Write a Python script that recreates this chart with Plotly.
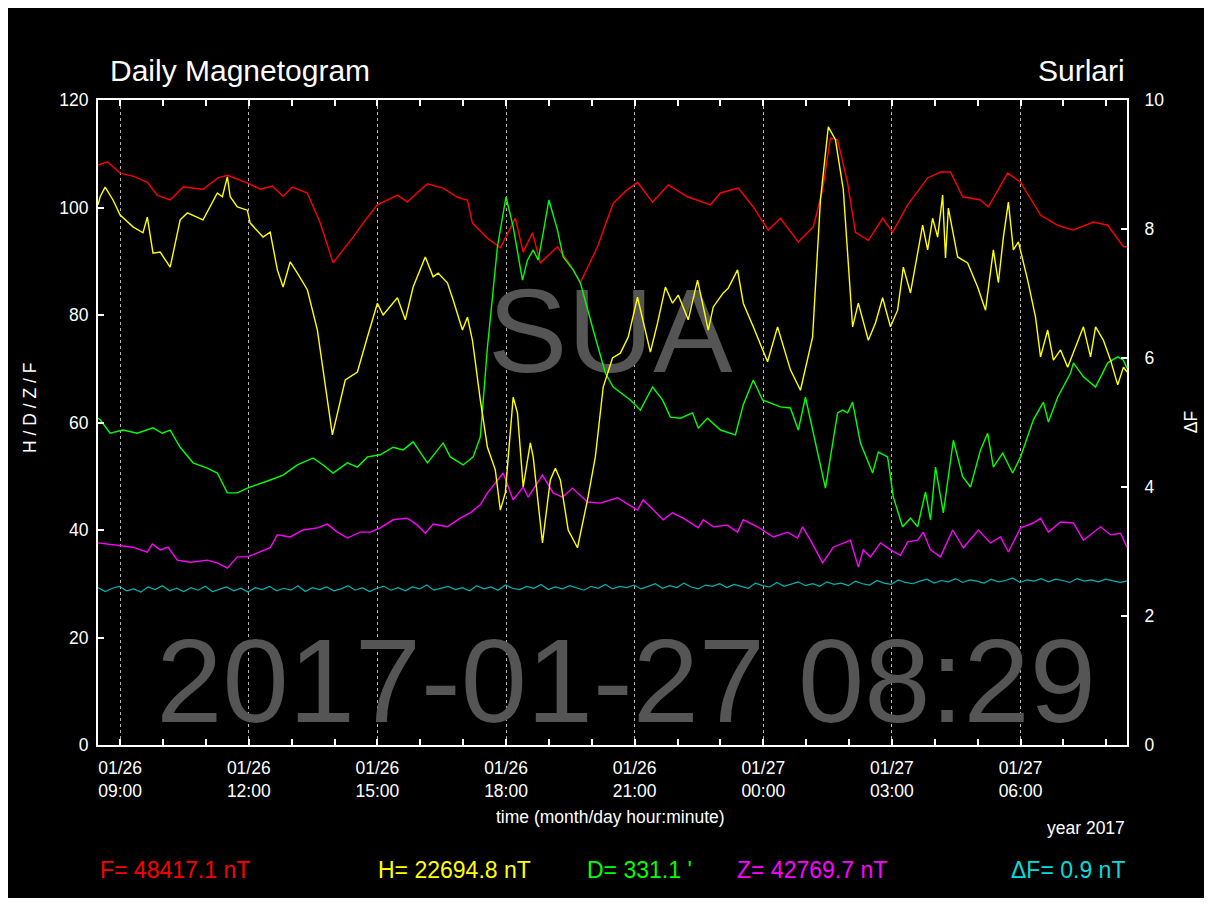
import plotly.graph_objects as go
import pandas as pd
import numpy as np

START = pd.Timestamp("2017-01-26 08:29")
END = START + pd.Timedelta(hours=24)

# F (total field) - minutes from start, values
f_min = [0,13,31,50,69,83,101,119,147,168,181,195,209,227,244,259,272,293,311,329,343,357,375,391,419,433,447,461,483,503,517,524,545,563,584,595,608,619,643,660,675,699,721,738,755,776,798,825,857,871,896,917,938,955,980,1001,1014,1025,1035,1049,1060,1078,1098,1112,1133,1161,1179,1193,1210,1235,1246,1273,1291,1319,1343,1365,1393,1413,1435,1440]
f_val = [107.9,108.5,106.4,105.8,104.7,102.3,101.4,103.8,103.4,105.5,106.0,105.3,104.6,103.4,104.0,102.1,103.8,102.7,97.1,89.7,92.0,94.5,97.8,100.5,102.3,101.0,102.8,104.4,103.6,101.9,101.4,97.1,94.3,92.5,98.0,91.7,95.3,89.7,92.7,89.5,86.0,92.7,100.8,103.0,104.7,101.0,104.2,102.0,100.5,102.7,103.6,100.1,95.8,98.0,93.6,96.4,103.3,112.9,112.6,104.6,95.4,93.9,98.0,95.4,100.5,105.5,106.6,106.6,102.0,101.4,100.1,106.4,104.7,98.6,96.7,95.8,97.3,96.7,92.7,92.7]

# H component
h_min = [0,3,10,21,31,49,63,69,77,87,101,115,125,147,167,174,181,185,195,209,213,231,241,251,259,269,279,293,307,328,346,363,377,391,399,419,430,441,458,469,476,489,497,510,517,524,535,545,556,563,570,581,587,595,605,609,622,633,640,647,658,671,685,696,707,720,731,742,755,773,783,794,804,812,826,839,854,861,875,882,895,903,917,937,951,969,983,1000,1011,1022,1032,1043,1056,1064,1078,1088,1098,1109,1119,1127,1137,1154,1161,1168,1175,1182,1186,1190,1203,1217,1231,1242,1253,1260,1267,1274,1281,1288,1301,1312,1319,1329,1337,1347,1357,1365,1379,1389,1396,1407,1417,1427,1435,1440]
h_val = [100.5,102.0,103.8,101.4,98.6,96.4,95.3,98.2,91.5,91.7,88.9,97.7,99.0,97.7,102.7,102.0,105.7,102.0,100.1,99.5,97.1,94.5,95.4,88.4,85.2,89.9,87.8,84.7,77.2,57.7,67.9,69.4,75.9,82.2,80.0,83.2,79.1,85.2,90.8,87.1,87.8,86.0,82.8,77.2,79.6,75.3,64.2,55.4,51.2,43.7,46.9,64.7,61.8,48.0,56.2,53.6,37.6,49.3,51.5,49.3,40.0,36.7,45.6,53.6,66.6,72.0,72.9,75.9,83.3,73.1,78.5,85.2,82.2,83.7,79.1,86.5,77.2,81.5,84.1,85.0,88.4,82.2,77.8,71.3,77.8,69.8,66.0,75.9,101.4,115.0,112.6,103.3,77.8,82.2,75.3,78.5,83.2,77.8,80.9,88.9,84.1,96.7,92.1,98.0,94.5,102.3,90.6,99.9,90.8,89.7,85.2,80.9,92.1,86.0,94.5,101.0,92.1,93.6,86.5,79.6,72.2,77.2,71.6,73.5,70.3,72.9,77.8,72.2,77.8,75.3,71.6,67.0,70.3,69.4]

# D component
d_min = [0,3,17,35,55,77,90,101,115,133,153,167,181,195,209,223,241,259,279,301,315,329,349,363,377,395,413,427,441,461,483,493,511,525,535,545,559,571,581,594,601,609,616,623,631,643,651,665,675,693,710,721,745,759,776,790,801,815,832,840,853,871,892,903,917,930,955,969,980,990,1001,1018,1035,1042,1049,1056,1067,1084,1092,1105,1113,1126,1137,1147,1158,1165,1172,1183,1197,1210,1221,1235,1245,1253,1266,1280,1291,1309,1323,1330,1343,1361,1365,1379,1396,1413,1427,1435,1440]
d_val = [60.8,60.5,58.0,58.6,58.0,59.0,58.0,58.6,55.4,52.5,51.5,50.6,46.9,46.9,47.8,48.4,49.3,50.2,52.1,53.4,52.1,50.6,52.5,51.7,53.6,54.0,55.4,54.9,56.4,52.5,56.2,53.6,52.1,53.6,57.3,74.0,92.7,102.0,96.4,86.5,90.2,92.1,90.2,95.3,101.4,95.8,90.8,88.4,86.0,77.2,69.2,66.6,64.2,62.3,66.6,64.2,61.0,60.8,61.8,59.0,60.8,58.6,57.7,63.3,67.9,64.2,62.9,62.7,58.6,64.7,58.0,47.8,61.8,62.3,61.8,63.8,56.2,50.6,54.5,53.6,46.1,40.6,42.2,40.6,47.1,41.9,51.7,43.2,56.7,49.9,48.0,54.9,58.0,51.7,54.3,50.6,53.6,60.5,63.8,60.1,64.7,69.2,71.1,68.5,66.6,71.1,72.2,71.6,70.1]

# Z component
z_min = [0,27,49,69,76,87,98,111,129,153,167,181,195,209,223,241,251,269,287,307,321,335,349,367,381,395,413,433,447,458,469,489,507,521,535,545,567,581,595,602,622,637,650,664,685,703,727,755,763,791,804,819,840,847,861,881,895,903,923,945,965,979,986,997,1014,1029,1053,1064,1071,1081,1095,1109,1123,1133,1147,1155,1165,1179,1196,1211,1232,1249,1263,1274,1291,1309,1319,1330,1347,1365,1379,1403,1417,1431,1440]
z_val = [37.6,37.2,36.8,35.9,37.4,36.3,36.8,34.4,34.0,34.4,33.9,32.9,35.0,35.0,35.7,36.7,39.1,38.7,40.0,40.4,41.1,39.6,38.5,39.6,39.6,40.4,41.9,42.2,40.9,39.4,41.1,40.6,42.2,43.2,44.7,46.9,50.6,45.6,48.0,46.1,50.2,46.9,46.1,47.8,45.2,45.0,46.0,43.7,45.6,41.9,43.2,42.2,40.4,41.9,40.6,40.9,39.6,41.9,40.6,38.7,39.6,38.5,40.6,38.1,33.9,36.8,38.1,33.1,36.3,35.0,37.6,36.3,35.3,37.8,38.1,39.6,36.3,35.0,40.0,36.7,40.0,37.6,38.7,35.9,40.4,41.3,42.2,39.6,41.5,41.3,38.1,40.6,39.1,39.4,36.8]

# Delta F (right axis), evenly sampled over the day
df_val = [2.44,2.38,2.43,2.46,2.39,2.42,2.37,2.45,2.41,2.47,2.39,2.43,2.38,2.44,2.40,2.46,2.38,2.42,2.45,2.39,2.43,2.37,2.44,2.41,2.46,
          2.39,2.43,2.40,2.47,2.38,2.44,2.41,2.45,2.39,2.42,2.47,2.40,2.44,2.38,2.43,2.46,2.40,2.44,2.39,2.45,2.42,2.48,2.40,2.43,2.46,
          2.41,2.44,2.39,2.47,2.42,2.45,2.40,2.48,2.43,2.41,2.46,2.43,2.49,2.41,2.45,2.42,2.47,2.44,2.40,2.46,2.43,2.49,2.42,2.46,2.44,
          2.48,2.42,2.46,2.50,2.43,2.47,2.44,2.51,2.45,2.42,2.48,2.46,2.50,2.44,2.49,2.46,2.43,2.51,2.47,2.45,2.52,2.46,2.49,2.53,2.47,
          2.50,2.46,2.53,2.49,2.51,2.47,2.54,2.50,2.48,2.55,2.51,2.49,2.56,2.52,2.50,2.54,2.57,2.51,2.55,2.53,2.58,2.52,2.56,2.54,2.51,
          2.57,2.53,2.55,2.59,2.52,2.56,2.54,2.58,2.53,2.57,2.55,2.52,2.58,2.54,2.56,2.53,2.57,2.55,2.52,2.54]
df_min = list(np.linspace(0, 1440, len(df_val)))

legend_texts = ["F= 48417.1 nT", "H= 22694.8 nT", "D= 331.1 '", "Z= 42769.7 nT", "ΔF= 0.9 nT"]
legend_colors = ["#ff0000", "#ffff00", "#00ff00", "#ff00ff", "#00dcdc"]


def times(mins):
    return [START + pd.Timedelta(minutes=float(m)) for m in mins]


FONT = "Liberation Sans, Arial, Helvetica, sans-serif"
GRAY = "#555555"

fig = go.Figure()

# watermarks (drawn first, under the lines)
fig.add_trace(go.Scatter(x=times([717]), y=[75.0], mode="text", text=["SUA"],
                         textposition="middle center", cliponaxis=False,
                         textfont=dict(family=FONT, size=119, color=GRAY), hoverinfo="skip"))
fig.add_trace(go.Scatter(x=times([739]), y=[9.9], mode="text", text=["2017-01-27 08:29"],
                         textposition="middle center", cliponaxis=False,
                         textfont=dict(family=FONT, size=119, color=GRAY), hoverinfo="skip"))

lw = 1.4
fig.add_trace(go.Scatter(x=times(f_min), y=f_val, mode="lines", line=dict(color="#ff0000", width=lw), name="F"))
fig.add_trace(go.Scatter(x=times(d_min), y=d_val, mode="lines", line=dict(color="#00ff00", width=lw), name="D"))
fig.add_trace(go.Scatter(x=times(z_min), y=z_val, mode="lines", line=dict(color="#ff00ff", width=lw), name="Z"))
fig.add_trace(go.Scatter(x=times(h_min), y=h_val, mode="lines", line=dict(color="#ffff00", width=lw), name="H"))
fig.add_trace(go.Scatter(x=times(df_min), y=df_val, mode="lines", line=dict(color="#00b4b4", width=1.2),
                         name="ΔF", yaxis="y2"))

fig.update_layout(
    width=1196, height=890,
    margin=dict(l=90, r=77, t=92, b=153),
    paper_bgcolor="black", plot_bgcolor="black",
    showlegend=False,
    font=dict(family=FONT, color="white", size=17),
    xaxis=dict(
        type="date", range=[START, END],
        tick0="2017-01-26 09:00", dtick=3 * 3600 * 1000,
        tickformat="%m/%d<br>%H:%M",
        ticks="inside", ticklen=6, tickwidth=1.5, tickcolor="white",
        showline=True, linecolor="white", linewidth=2, mirror="ticks",
        showgrid=True, gridcolor="#b4b4b4", griddash="dot", gridwidth=1,
        zeroline=False, ticklabelstandoff=6,
        tickfont=dict(size=17.5, color="white", family=FONT),
        minor=dict(tick0="2017-01-26 09:00", dtick=3600 * 1000, ticks="inside",
                   ticklen=6, tickwidth=1.5, tickcolor="white", showgrid=False),
    ),
    yaxis=dict(
        range=[0, 120], dtick=20, ticks="inside", ticklen=6, tickwidth=1.5, tickcolor="white",
        showline=True, linecolor="white", linewidth=2, mirror=True,
        showgrid=False, zeroline=False, ticklabelstandoff=4,
        tickfont=dict(size=17.5, color="white", family=FONT),
    ),
    yaxis2=dict(
        overlaying="y", side="right", range=[0, 10], dtick=2,
        ticks="inside", ticklen=6, tickwidth=1.5, tickcolor="white",
        showline=True, linecolor="white", linewidth=2,
        showgrid=False, zeroline=False, ticklabelstandoff=12,
        tickfont=dict(size=17.5, color="white", family=FONT),
    ),
)

ann = []
ann.append(dict(text="Daily Magnetogram", x=0.0097, y=1.0465, xref="paper", yref="paper",
                xanchor="left", yanchor="middle", showarrow=False,
                font=dict(size=30, color="white", family=FONT)))
ann.append(dict(text="Surlari", x=1.0, y=1.0465, xref="paper", yref="paper",
                xanchor="right", yanchor="middle", showarrow=False,
                font=dict(size=30, color="white", family=FONT)))
ann.append(dict(text="H / D / Z / F", x=-0.0661, y=0.5225, xref="paper", yref="paper",
                xanchor="center", yanchor="middle", textangle=-90, showarrow=False,
                font=dict(size=17.5, color="white", family=FONT)))
ann.append(dict(text="ΔF", x=1.0625, y=0.5008, xref="paper", yref="paper",
                xanchor="center", yanchor="middle", textangle=-90, showarrow=False,
                font=dict(size=17.5, color="white", family=FONT)))
ann.append(dict(text="time (month/day hour:minute)", x=0.4976, y=-0.1116, xref="paper", yref="paper",
                xanchor="center", yanchor="middle", showarrow=False,
                font=dict(size=17.5, color="white", family=FONT)))
ann.append(dict(text="year 2017", x=1.0, y=-0.1287, xref="paper", yref="paper",
                xanchor="right", yanchor="middle", showarrow=False,
                font=dict(size=17.5, color="white", family=FONT)))

leg_x = [0.0, 0.2702, 0.4733, 0.619, 1.0]
leg_anchor = ["left", "left", "left", "left", "right"]
for t, c, xx, a in zip(legend_texts, legend_colors, leg_x, leg_anchor):
    ann.append(dict(text=t, x=xx, y=-0.1938, xref="paper", yref="paper",
                    xanchor=a, yanchor="middle", showarrow=False,
                    font=dict(size=23, color=c, family=FONT)))

fig.update_layout(annotations=ann)

fig.write_html("out.html")
